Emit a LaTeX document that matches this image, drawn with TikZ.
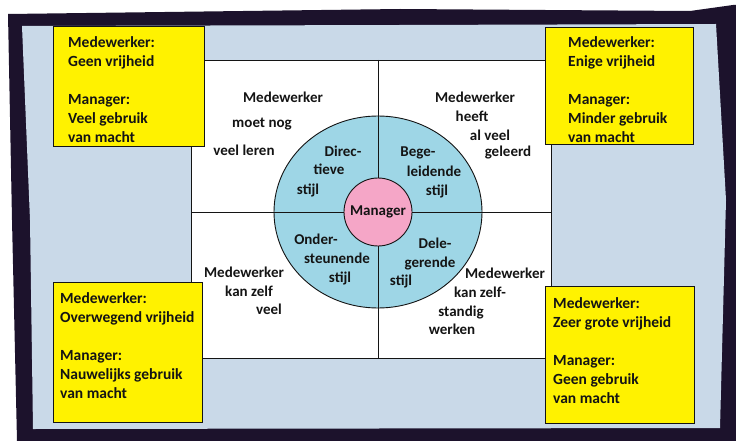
\documentclass[tikz,border=0pt]{standalone}
\usepackage{fontspec}
\setmainfont{Carlito}
\usetikzlibrary{shapes.geometric,positioning}

\definecolor{framedark}{RGB}{28,18,44}
\definecolor{panelblue}{RGB}{201,217,232}
\definecolor{ringblue}{RGB}{158,214,230}
\definecolor{hubpink}{RGB}{245,166,199}
\definecolor{noteyellow}{RGB}{255,242,0}
\definecolor{ink}{RGB}{20,20,20}

\begin{document}
\begin{tikzpicture}[
    x=1pt, y=-1pt,
    font=\bfseries\fontsize{15}{19}\selectfont, text=ink,
    note/.style={draw=ink, line width=1.2pt, fill=noteyellow, anchor=north west, inner sep=0pt},
    notetext/.style={align=left, anchor=north west, inner sep=0pt, font=\bfseries\fontsize{15.5}{19}\selectfont},
    quad/.style={anchor=base, inner sep=0pt},
    crossline/.style={draw=ink, line width=1pt}
]
    \useasboundingbox (0,0) rectangle (736,441);
    \fill[white] (0,0) rectangle (736,441);

    % frame
    \fill[framedark] (8,14) -- (400,9) -- (690,11) -- (733,5) -- (736,5) -- (736,441)
        -- (17,441) -- (12,220) -- cycle;
    \fill[panelblue] (22,26) -- (400,25) -- (716,24) -- (726,200) -- (720,428)
        -- (33,429) -- (30,220) -- cycle;

    % white panel with the two axes
    \node[draw=ink, line width=1.3pt, fill=white, anchor=north west, inner sep=0pt,
          minimum width=360pt, minimum height=298pt] (panel) at (191,60) {};
    \coordinate (hub) at (378,212);
    \node[ellipse, draw=ink, line width=0.9pt, fill=ringblue, inner sep=0pt,
          minimum width=208pt, minimum height=192pt] (ring) at (hub) {};
    \draw[crossline] (hub |- panel.north) -- (hub |- panel.south);
    \draw[crossline] (panel.west |- hub) -- (panel.east |- hub);
    \node[circle, draw=ink, line width=0.9pt, fill=hubpink, inner sep=0pt,
          minimum size=68pt] (mgr) at (hub) {Manager};

    % quadrant texts
    \foreach \tx/\ty/\words [count=\i] in {283/103/Medewerker, 262/128/moet nog, 244/155/veel leren}
        \node[quad] (tl\i) at (\tx,\ty) {\words};
    \foreach \tx/\ty/\words [count=\i] in {475/103/Medewerker, 472/122/heeft, 490/140/al veel, 508/157/geleerd}
        \node[quad] (tr\i) at (\tx,\ty) {\words};
    \foreach \tx/\ty/\words [count=\i] in {244/277/Medewerker, 249/296/kan zelf, 269/314/veel}
        \node[quad] (bl\i) at (\tx,\ty) {\words};
    \foreach \tx/\ty/\words [count=\i] in {505/278/Medewerker, 480/297/kan zelf-, 461/316/standig, 452/334/werken}
        \node[quad] (br\i) at (\tx,\ty) {\words};

    % styles in the ring
    \foreach \tx/\ty/\words [count=\i] in {343/157/Direc-, 329/174/tieve, 308/194/stijl}
        \node[quad] (dir\i) at (\tx,\ty) {\words};
    \foreach \tx/\ty/\words [count=\i] in {418/157/Bege-, 434/176/leidende, 437/195/stijl}
        \node[quad] (beg\i) at (\tx,\ty) {\words};
    \foreach \tx/\ty/\words [count=\i] in {316/244/Onder-, 337/263/steunende, 340/282/stijl}
        \node[quad] (ond\i) at (\tx,\ty) {\words};
    \foreach \tx/\ty/\words [count=\i] in {435/248/Dele-, 430/267/gerende, 401/285/stijl}
        \node[quad] (del\i) at (\tx,\ty) {\words};

    % yellow notes
    \node[note, minimum width=151pt, minimum height=120pt] (tlnote) at (53,26) {};
    \node[notetext] (tltext) at (68,36) {Medewerker:\\Geen vrijheid\\[19pt]Manager:\\Veel gebruik\\van macht};
    \node[note, minimum width=148pt, minimum height=117pt] (trnote) at (545,27) {};
    \node[notetext] (trtext) at (568,36) {Medewerker:\\Enige vrijheid\\[19pt]Manager:\\Minder gebruik\\van macht};
    \node[note, minimum width=149pt, minimum height=140pt] (blnote) at (53,282) {};
    \node[notetext] (bltext) at (60,292) {Medewerker:\\Overwegend vrijheid\\[19pt]Manager:\\Nauwelijks gebruik\\van macht};
    \node[note, minimum width=149pt, minimum height=137pt] (brnote) at (545,286) {};
    \node[notetext] (brtext) at (553,297) {Medewerker:\\Zeer grote vrijheid\\[19pt]Manager:\\Geen gebruik\\van macht};
\end{tikzpicture}
\end{document}
